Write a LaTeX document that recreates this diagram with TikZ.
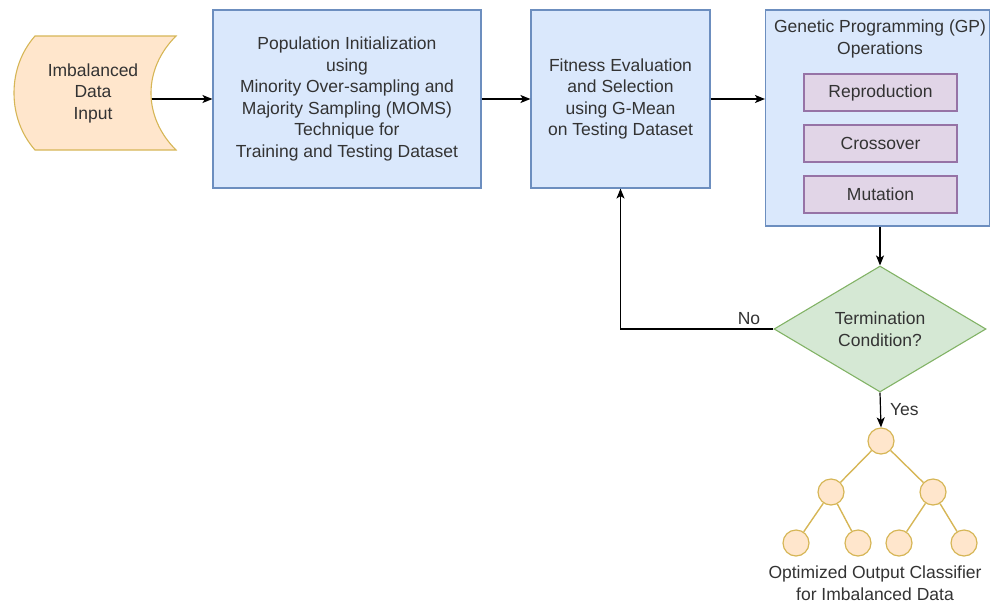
\documentclass[tikz,border=0pt]{standalone}
\usepackage{fontspec}
\setmainfont{Liberation Sans}
\usetikzlibrary{shapes,arrows,arrows.meta}

\definecolor{bleufond}{HTML}{DAE8FC}
\definecolor{bleutrait}{HTML}{6C8EBF}
\definecolor{orfond}{HTML}{FFE6CC}
\definecolor{ortrait}{HTML}{D6B656}
\definecolor{vertfond}{HTML}{D5E8D4}
\definecolor{verttrait}{HTML}{82B366}
\definecolor{violetfond}{HTML}{E1D5E7}
\definecolor{violettrait}{HTML}{9673A6}
\definecolor{gristexte}{HTML}{333333}

\begin{document}
\begin{tikzpicture}[x=1pt,y=-1pt,font=\fontsize{17.5}{21.5}\selectfont,text=gristexte]
	\useasboundingbox (0,0) rectangle (990,603);
	\tikzstyle{etape}=[rectangle,draw=bleutrait,fill=bleufond,line width=1.1pt,
	align=center,inner sep=0pt]
	\tikzstyle{operation}=[rectangle,draw=violettrait,fill=violetfond,
	line width=1.1pt,minimum width=153pt,minimum height=37pt,inner sep=0pt]
	\tikzstyle{decision}=[diamond,draw=verttrait,fill=vertfond,line width=1.1pt,
	minimum width=212pt,minimum height=126pt,inner sep=0pt,align=center]
	\tikzstyle{feuille}=[circle,draw=ortrait,fill=orfond,line width=1.2pt,
	minimum size=26pt,inner sep=0pt]

	% donnees en entree
	\draw[draw=ortrait,fill=orfond,line width=1.1pt] (35,36) -- (176,36)
	.. controls (160,52) and (151,72) .. (151,93)
	.. controls (151,114) and (160,134) .. (176,150) -- (35,150)
	.. controls (21,134) and (14,114) .. (14,93)
	.. controls (14,72) and (21,52) .. (35,36) -- cycle;
	\node[align=center] (entree) at (93,93) {Imbalanced\\Data\\Input};
	\coordinate (creux) at (151.5,99);

	\node[etape,minimum width=268pt,minimum height=178pt] (init) at (347,99)
	{Population Initialization\\using\\Minority Over-sampling and\\Majority
	Sampling (MOMS)\\Technique for\\Training and Testing Dataset};
	\node[etape,minimum width=179pt,minimum height=178pt] (eval) at (620.5,99)
	{Fitness Evaluation\\and Selection\\using G-Mean\\on Testing Dataset};
	\node[etape,minimum width=224pt,minimum height=216pt] (gp) at (877.5,118) {};
	\node[align=center] (titregp) at (880,39) {Genetic Programming (GP)\\Operations};
	\node[operation] (repro) at (880.5,92.5) {Reproduction};
	\node[operation] (croise) at (880.5,143.5) {Crossover};
	\node[operation] (mutation) at (880.5,194.5) {Mutation};

	\node[decision] (fin) at (880,329) {Termination\\Condition?};

	% arbre du classifieur
	\node[feuille] (racine) at (881,441) {};
	\node[feuille] (g) at (831,492) {};
	\node[feuille] (d) at (933,492) {};
	\node[feuille] (gg) at (796,543) {};
	\node[feuille] (gd) at (858,543) {};
	\node[feuille] (dg) at (899,543) {};
	\node[feuille] (dd) at (964,543) {};
	\node[align=center] (legende) at (875,583)
	{Optimized Output Classifier\\for Imbalanced Data};

	\tikzstyle{branche}=[draw=ortrait,line width=1.4pt]
	\draw[branche] (racine) -- (g);
	\draw[branche] (racine) -- (d);
	\draw[branche] (g) -- (gg);
	\draw[branche] (g) -- (gd);
	\draw[branche] (d) -- (dg);
	\draw[branche] (d) -- (dd);

	\tikzstyle{suite}=[->,>={Stealth[length=10pt,width=8pt,inset=2.5pt]},
	line width=1.2pt,draw=black]

	\draw[suite] (creux) -- (creux -| init.west);
	\draw[suite] (init.east |- eval.west) -- (eval.west);
	\draw[suite] (eval.east) -- (gp.west |- eval.east);
	\draw[suite] (fin.north |- gp.south) -- (fin.north);
	\draw[suite] (fin.west) -| node[pos=0.08,above,inner sep=4pt] (non) {No}
	(eval.south);
	\draw[suite] (fin.south) -- node[right,inner sep=9pt] (oui) {Yes} (racine.north);
\end{tikzpicture}
\end{document}
